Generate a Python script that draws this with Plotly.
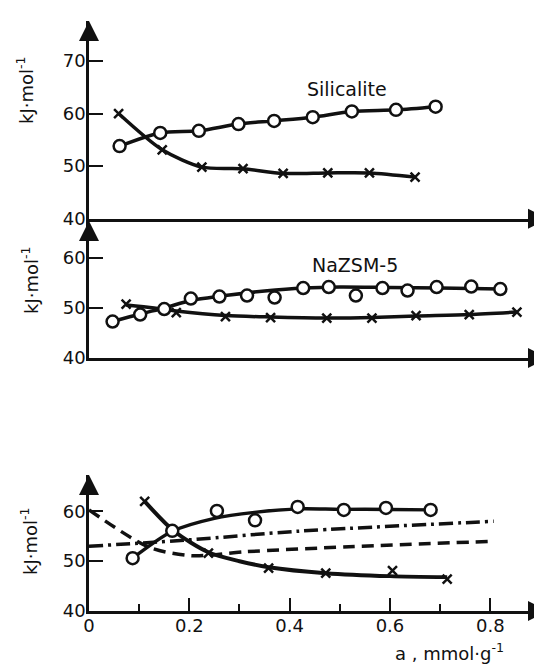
import plotly.graph_objects as go

# ---------------- data ----------------
# Silicalite (top panel)
sil_circ_x = [0.061, 0.142, 0.219, 0.298, 0.369, 0.446, 0.524, 0.612, 0.691]
sil_circ_y = [53.8, 56.3, 56.7, 58.0, 58.6, 59.3, 60.4, 60.7, 61.3]
sil_cross_x = [0.059, 0.146, 0.225, 0.307, 0.387, 0.476, 0.559, 0.650]
sil_cross_y = [60.0, 53.1, 49.8, 49.5, 48.6, 48.7, 48.7, 47.9]

# NaZSM-5 (middle panel)
na_circ_x = [0.047, 0.102, 0.150, 0.203, 0.260, 0.315, 0.370, 0.427, 0.478,
             0.532, 0.585, 0.635, 0.693, 0.762, 0.820]
na_circ_y = [47.3, 48.7, 49.8, 51.9, 52.3, 52.5, 52.1, 54.0, 54.2,
             52.5, 54.0, 53.5, 54.2, 54.3, 53.8]
na_circ_curve_x = [0.047, 0.102, 0.150, 0.203, 0.280, 0.350, 0.427, 0.500, 0.600, 0.700, 0.820]
na_circ_curve_y = [47.3, 48.8, 50.0, 51.5, 52.6, 53.4, 54.0, 54.2, 54.1, 54.0, 53.8]
na_cross_x = [0.074, 0.174, 0.272, 0.362, 0.474, 0.564, 0.652, 0.758, 0.853]
na_cross_y = [50.8, 49.1, 48.3, 48.1, 48.0, 48.0, 48.5, 48.7, 49.2]
na_cross_curve_x = [0.074, 0.130, 0.174, 0.272, 0.362, 0.474, 0.564, 0.652, 0.758, 0.853]
na_cross_curve_y = [50.6, 50.0, 49.4, 48.5, 48.2, 48.0, 48.1, 48.4, 48.7, 49.2]

# HZSM-5 (bottom panel)
h_circ_x = [0.087, 0.166, 0.255, 0.331, 0.416, 0.508, 0.592, 0.681]
h_circ_y = [50.6, 56.1, 60.1, 58.2, 60.9, 60.3, 60.7, 60.3]
h_circ_curve_x = [0.087, 0.166, 0.250, 0.330, 0.420, 0.500, 0.600, 0.681]
h_circ_curve_y = [50.6, 56.0, 58.6, 59.8, 60.5, 60.4, 60.4, 60.3]
h_cross_x = [0.111, 0.238, 0.358, 0.472, 0.605, 0.714]
h_cross_y = [62.0, 51.6, 48.6, 47.6, 48.1, 46.4]
h_cross_curve_x = [0.111, 0.170, 0.238, 0.300, 0.358, 0.472, 0.600, 0.714]
h_cross_curve_y = [62.0, 56.0, 51.8, 50.0, 48.8, 47.6, 47.0, 46.8]
h_dash_x = [0.0, 0.120, 0.205, 0.312, 0.518, 0.807]
h_dash_y = [60.3, 52.8, 51.1, 51.9, 52.9, 54.0]
h_dashdot_x = [0.0, 0.202, 0.415, 0.807]
h_dashdot_y = [53.0, 54.3, 56.0, 58.0]

x_ticks = [0, 0.2, 0.4, 0.6, 0.8]
x_ticklabels = ["0", "0.2", "0.4", "0.6", "0.8"]
panel_names = ["Silicalite", "NaZSM-5", "HZSM-5"]
y_title = "kJ·mol<sup>-1</sup>"
x_title = "a , mmol·g<sup>-1</sup>"

FONT = "DejaVu Sans"
BLACK = "#111111"

fig = go.Figure()


def curve(x, y, xa, ya, width=3.5, dash="solid"):
    fig.add_trace(go.Scatter(x=x, y=y, xaxis=xa, yaxis=ya, mode="lines",
                             line=dict(color=BLACK, width=width, dash=dash,
                                       shape="spline", smoothing=0.8),
                             hoverinfo="skip", showlegend=False))


def circles(x, y, xa, ya):
    fig.add_trace(go.Scatter(x=x, y=y, xaxis=xa, yaxis=ya, mode="markers",
                             marker=dict(symbol="circle", size=12, color="white",
                                         line=dict(color=BLACK, width=2.5)),
                             showlegend=False))


def crosses(x, y, xa, ya):
    fig.add_trace(go.Scatter(x=x, y=y, xaxis=xa, yaxis=ya, mode="markers",
                             marker=dict(symbol="x-thin-open", size=9, color=BLACK,
                                         line=dict(color=BLACK, width=2.5)),
                             showlegend=False))


# top panel
curve(sil_circ_x, sil_circ_y, "x", "y")
curve(sil_cross_x, sil_cross_y, "x", "y")
circles(sil_circ_x, sil_circ_y, "x", "y")
crosses(sil_cross_x, sil_cross_y, "x", "y")

# middle panel
curve(na_circ_curve_x, na_circ_curve_y, "x2", "y2")
curve(na_cross_curve_x, na_cross_curve_y, "x2", "y2")
circles(na_circ_x, na_circ_y, "x2", "y2")
crosses(na_cross_x, na_cross_y, "x2", "y2")

# bottom panel
curve(h_dash_x, h_dash_y, "x3", "y3", width=3.5, dash="12px,7px")
curve(h_dashdot_x, h_dashdot_y, "x3", "y3", width=3.5, dash="14px,5px,3px,5px")
curve(h_circ_curve_x, h_circ_curve_y, "x3", "y3")
curve(h_cross_curve_x, h_cross_curve_y, "x3", "y3", width=4)
circles(h_circ_x, h_circ_y, "x3", "y3")
crosses(h_cross_x, h_cross_y, "x3", "y3")

XMAX = 0.915
tickfont = dict(family=FONT, size=18, color=BLACK)

common_x = dict(range=[0, XMAX], showgrid=False, zeroline=False, showline=True,
                linecolor=BLACK, linewidth=2.5, fixedrange=True)
common_y = dict(showgrid=False, zeroline=False, showline=True, linecolor=BLACK,
                linewidth=2.5, ticks="inside", ticklen=14, tickwidth=2,
                tickcolor=BLACK, tickfont=tickfont, fixedrange=True,
                ticklabelstandoff=-3)

fig.update_layout(
    width=542, height=664,
    margin=dict(l=81, r=2, t=13, b=61),
    paper_bgcolor="white", plot_bgcolor="white",
    font=dict(family=FONT, color=BLACK),
    showlegend=False,
    xaxis=dict(**common_x, anchor="y", showticklabels=False, ticks=""),
    yaxis=dict(**common_y, domain=[0.665, 1.0], range=[40, 77.6],
               tickvals=[40, 50, 60, 70], anchor="x"),
    xaxis2=dict(**common_x, anchor="y2", showticklabels=False, ticks=""),
    yaxis2=dict(**common_y, domain=[0.4288, 0.661], range=[40, 67.4],
                tickvals=[40, 50, 60], anchor="x2"),
    xaxis3=dict(**common_x, anchor="y3", tickvals=x_ticks, ticktext=x_ticklabels,
                ticks="inside", ticklen=13, tickwidth=2, tickcolor=BLACK,
                tickfont=tickfont, ticklabelstandoff=-3,
                minor=dict(dtick=0.1, tick0=0, ticks="inside", ticklen=7,
                           tickwidth=2, tickcolor=BLACK)),
    yaxis3=dict(**common_y, domain=[0.0, 0.2305], range=[40, 67.3],
                tickvals=[40, 50, 60], anchor="x3"),
)

ann = []
# axis arrows
for xa, ya, ymax in [("x", "y", 77.6), ("x2", "y2", 67.4), ("x3", "y3", 67.3)]:
    ann.append(dict(x=XMAX, y=40, xref=xa, yref=ya, ax=-16, ay=0, text="",
                    showarrow=True, arrowhead=2, arrowsize=1.6, arrowwidth=2.5,
                    arrowcolor=BLACK, standoff=0))
    ann.append(dict(x=0, y=ymax, xref=xa, yref=ya, ax=0, ay=16, text="",
                    showarrow=True, arrowhead=2, arrowsize=1.6, arrowwidth=2.5,
                    arrowcolor=BLACK, standoff=0))

# panel labels
label_font = dict(family=FONT, size=19, color=BLACK)
ann.append(dict(x=0.515, y=64.6, xref="x", yref="y", text=panel_names[0],
                showarrow=False, font=label_font))
ann.append(dict(x=0.53, y=58.7, xref="x2", yref="y2", text=panel_names[1],
                showarrow=False, font=label_font))
ann.append(dict(x=0.52, y=68.2, xref="x3", yref="y3", text=panel_names[2],
                showarrow=False, font=label_font))

# y-axis titles
ytitle_font = dict(family=FONT, size=18, color=BLACK)
for px, py in [(17, 82), (22, 272), (21, 533)]:
    ann.append(dict(x=(px - 81) / 459, y=(603 - py) / 590, xref="paper", yref="paper",
                    xanchor="center", yanchor="middle",
                    text=y_title, textangle=-90, showarrow=False, font=ytitle_font))

# x-axis title
ann.append(dict(x=(441 - 81) / 459, y=(603 - 644) / 590, xref="paper", yref="paper",
                xanchor="center", yanchor="middle",
                text=x_title, showarrow=False,
                font=dict(family=FONT, size=18, color=BLACK)))

fig.update_layout(annotations=ann)

fig.write_html("out.html")
